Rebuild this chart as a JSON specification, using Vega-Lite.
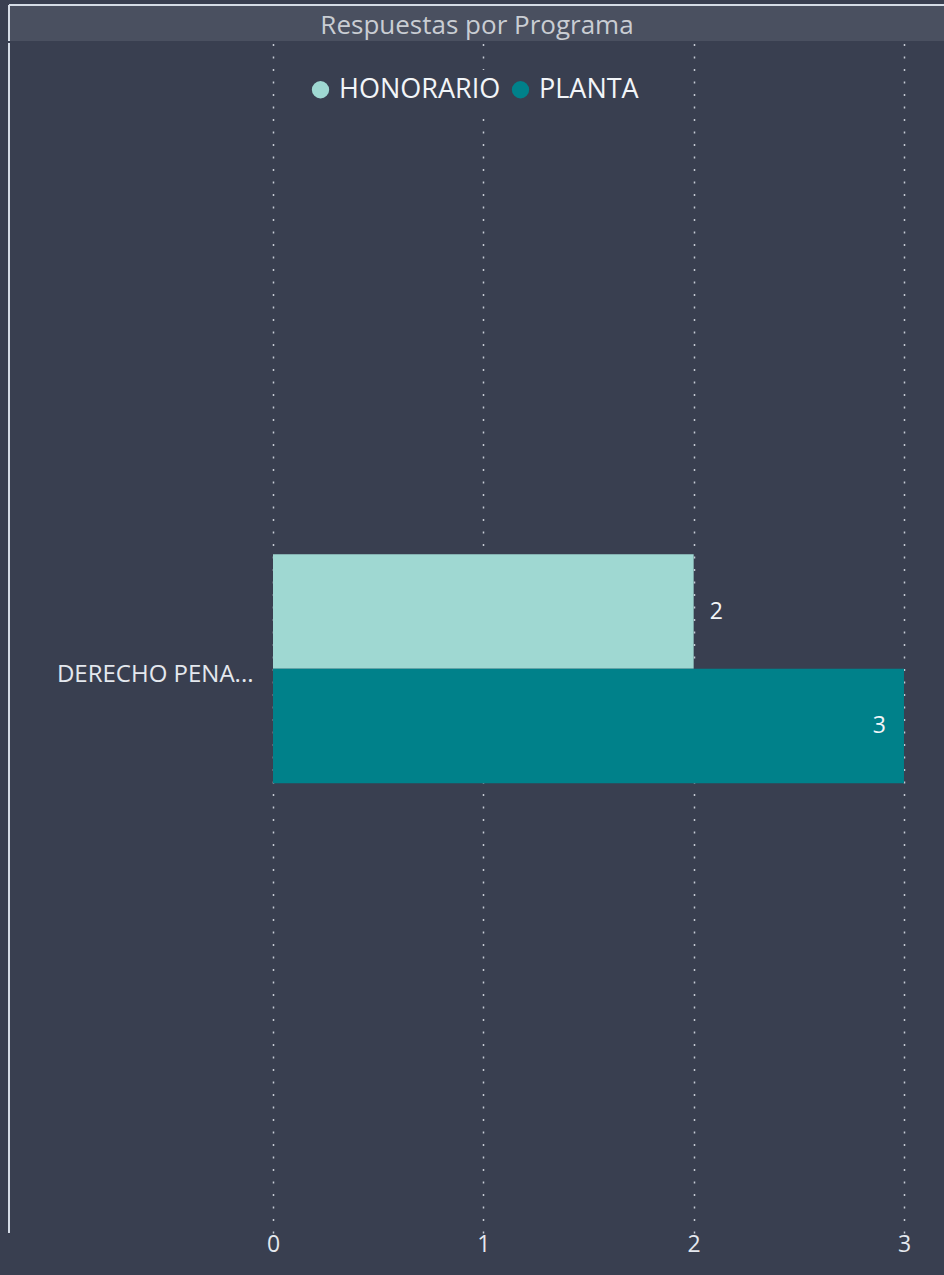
{
  "$schema": "https://vega.github.io/schema/vega-lite/v6.json",
  "background": "#393F50",
  "padding": {"left": 8, "top": 4, "right": 0, "bottom": 20},
  "config": {"view": {"stroke": null}, "font": "Open Sans", "concat": {"spacing": 0}},
  "spacing": 0,
  "datasets": {
    "respuestas": [
      {"programa": "DERECHO PENA...", "tipo": "HONORARIO", "respuestas": 2},
      {"programa": "DERECHO PENA...", "tipo": "PLANTA", "respuestas": 3}
    ]
  },
  "resolve": {"legend": {"color": "independent"}, "scale": {"color": "independent"}},
  "vconcat": [
    {
      "width": 936,
      "height": 36,
      "view": {"fill": "#4A5060", "stroke": null},
      "data": {"values": [{"titulo": "Respuestas por Programa"}]},
      "layer": [
        {
          "mark": {"type": "text", "fontSize": 26, "color": "#C9CDD3", "align": "center", "baseline": "middle", "dy": 3},
          "encoding": {"text": {"field": "titulo"}}
        },
        {
          "mark": {"type": "rule", "color": "#D5DCE6", "strokeWidth": 2},
          "encoding": {
            "x": {"datum": 0, "scale": {"domain": [0, 1]}, "axis": null},
            "x2": {"datum": 1},
            "y": {"datum": 1, "scale": {"domain": [0, 1]}, "axis": null}
          }
        },
        {
          "mark": {"type": "rule", "color": "#D5DCE6", "strokeWidth": 2},
          "encoding": {
            "x": {"datum": 0},
            "y": {"datum": 0},
            "y2": {"datum": 1}
          }
        }
      ]
    },
    {
      "width": 936,
      "height": 1190,
      "data": {"name": "respuestas"},
      "layer": [
        {
          "mark": {"type": "bar"},
          "encoding": {
            "y": {
              "field": "programa",
              "type": "nominal",
              "scale": {"paddingInner": 0.5234, "paddingOuter": 1, "align": 0.532},
              "axis": {"title": null, "domain": false, "ticks": false, "offset": -244, "labelPadding": 0, "labelFontSize": 24, "labelColor": "#E4E8EE", "labelLimit": 0, "labelOffset": 6}
            },
            "yOffset": {"field": "tipo", "scale": {"domain": ["HONORARIO", "PLANTA"], "paddingInner": 0, "paddingOuter": 0}},
            "x": {
              "field": "respuestas",
              "type": "quantitative",
              "scale": {"domain": [-1.2552, 3.195], "nice": false, "zero": false},
              "axis": {"values": [0, 1, 2, 3], "format": "d", "title": null, "domain": false, "ticks": false, "labelFontSize": 23, "labelColor": "#E4E8EE", "labelPadding": 0, "grid": true, "gridColor": "#C5CAD3", "gridDash": [2, 10.5], "gridWidth": 1.5}
            },
            "x2": {"datum": 0},
            "color": {
              "field": "tipo",
              "type": "nominal",
              "scale": {"domain": ["HONORARIO", "PLANTA"], "range": ["#9FD8D2", "#00818A"]},
              "legend": {"orient": "none", "legendX": 292, "legendY": 27, "direction": "horizontal", "title": null, "symbolType": "circle", "symbolSize": 300, "labelFontSize": 27, "labelLimit": 0, "labelColor": "#F2F5F8", "columnPadding": 6, "labelOffset": 5, "fillColor": "#393F50", "padding": 6, "symbolStrokeWidth": 0}
            }
          }
        },
        {
          "transform": [{"filter": "datum.tipo === 'HONORARIO'"}],
          "mark": {"type": "text", "align": "left", "baseline": "middle", "dx": 16, "fontSize": 23, "color": "#F2F5F8"},
          "encoding": {
            "y": {"field": "programa", "type": "nominal"},
            "yOffset": {"field": "tipo"},
            "x": {"field": "respuestas", "type": "quantitative"},
            "text": {"field": "respuestas", "type": "quantitative"}
          }
        },
        {
          "transform": [{"filter": "datum.tipo === 'PLANTA'"}],
          "mark": {"type": "text", "align": "right", "baseline": "middle", "dx": -18, "fontSize": 23, "color": "#F2F5F8"},
          "encoding": {
            "y": {"field": "programa", "type": "nominal"},
            "yOffset": {"field": "tipo"},
            "x": {"field": "respuestas", "type": "quantitative"},
            "text": {"field": "respuestas", "type": "quantitative"}
          }
        },
        {
          "data": {"values": [{"borde": -1.2552}]},
          "mark": {"type": "rule", "color": "#D5DCE6", "strokeWidth": 2},
          "encoding": {"x": {"field": "borde", "type": "quantitative"}}
        }
      ]
    }
  ]
}
